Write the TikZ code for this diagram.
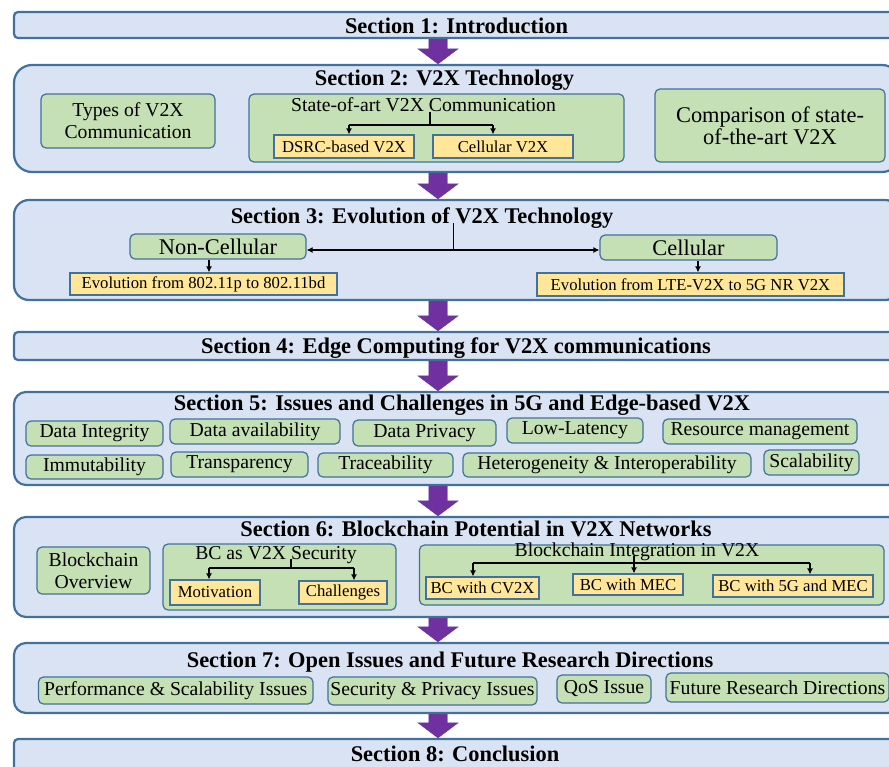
\documentclass[tikz,border=0pt]{standalone}
\usepackage{fontspec}
\setmainfont{Liberation Serif}
\usetikzlibrary{calc,arrows.meta}
\definecolor{secfill}{HTML}{DAE3F3}
\definecolor{secline}{HTML}{41719C}
\definecolor{gfill}{HTML}{C5E0B4}
\definecolor{yfill}{HTML}{FFE699}
\definecolor{purp}{HTML}{7030A0}
\newcommand\fbig{\fontsize{22.4}{27}\selectfont}
\newcommand\fmid{\fontsize{19.7}{22}\selectfont}
\newcommand\fsml{\fontsize{16.7}{19}\selectfont}
\newcommand\bx[7]{\node[#2, minimum width={#5-#3}, minimum height={#6-#4}] (#1) at ({(#3+#5)/2},{(#4+#6)/2}) {#7};}
\newcommand\bigarrow[2]{\fill[purp, draw=purp!70!secline, line width=0.4pt] ($(#1)+(-9.25,0)$) -- ($(#2)+(-9.25,-15)$) -- ($(#2)+(-20,-15)$) -- (#2) -- ($(#2)+(20,-15)$) -- ($(#2)+(9.25,-15)$) -- ($(#1)+(9.25,0)$) -- cycle;}
\tikzset{
  sec/.style={draw=secline, fill=secfill, line width=2.2pt, inner sep=0pt, rounded corners=#1},
  stitle/.style={font=\fontsize{22.4}{26}\selectfont\bfseries, inner sep=0pt, anchor=base},
  gbox/.style={draw=secline, fill=gfill, line width=1.2pt, rounded corners=5pt, inner sep=0pt, align=center, font=\fmid},
  ybox/.style={draw=secline, fill=yfill, line width=1.2pt, inner sep=0pt, align=center, font=\fsml},
  ttl/.style={font=\fmid, inner sep=0pt, anchor=base},
  conn/.style={line width=1.8pt, black},
  arr/.style={conn, -{Latex[length=6pt,width=6pt]}},
  conn3/.style={line width=1.3pt, black},
  arr3/.style={conn3, -{Latex[length=6pt,width=6pt]}},
}
\begin{document}
\begin{tikzpicture}[x=1pt,y=-1pt]
\clip (0,0) rectangle (889,766);
\fill[white] (0,0) rectangle (889,766);
\coordinate (ax) at (438,0);
% ---------- Section 1
\bx{s1}{sec=4pt}{14}{12}{900}{38}{}
\node[stitle] (s1t) at (456.5,33) {Section 1: Introduction};
% ---------- Section 2
\bx{s2}{sec=18pt}{14}{65}{900}{172}{}
\node[stitle] (s2t) at (444.5,85) {Section 2: V2X Technology};
\bx{types}{gbox}{41}{94}{215}{148}{Types of V2X\\Communication}
\bx{state}{gbox}{249}{94}{624}{162}{}
\node[ttl] (stt) at (423.5,111) {State-of-art V2X Communication};
\bx{dsrc}{ybox}{274}{135}{414}{158}{DSRC-based V2X}
\bx{cellv}{ybox}{433}{135}{573}{158}{Cellular V2X}
\bx{comp}{gbox}{655}{89}{885}{162}{\fbig Comparison of state-\\\fbig of-the-art V2X}
\coordinate (stj) at (430,125);
\coordinate (stl) at (349,125);
\coordinate (str) at (493,125);
\draw[conn] (stt.south -| stj) -- (stj);
\draw[conn] (stl) -- (str);
\draw[arr] (stl) -- (stl |- dsrc.north);
\draw[arr] (str) -- (str |- cellv.north);
% ---------- Section 3
\bx{s3}{sec=15pt}{14}{200}{900}{300}{}
\node[stitle] (s3t) at (422,223) {Section 3: Evolution of V2X Technology};
\bx{noncell}{gbox}{130}{234}{306}{259}{\fbig Non-Cellular}
\bx{cell}{gbox}{600}{235}{777}{260}{\fbig Cellular}
\bx{ev1}{ybox}{70}{273}{337}{295}{Evolution from 802.11p to 802.11bd}
\bx{ev2}{ybox}{537}{273}{844}{296}{Evolution from LTE-V2X to 5G NR V2X}
\coordinate (s3j) at (453.5,250);
\draw[conn3] (s3t.base -| s3j) -- (s3j);
\draw[conn3, {Latex[length=6pt,width=6pt]}-{Latex[length=6pt,width=6pt]}] (noncell.east |- s3j) -- (cell.west |- s3j);
\coordinate (ncx) at (209,0);
\coordinate (cex) at (698,0);
\draw[arr3] (noncell.south -| ncx) -- (ev1.north -| ncx);
\draw[arr3] (cell.south -| cex) -- (ev2.north -| cex);
% ---------- Section 4
\bx{s4}{sec=4pt}{14}{332}{900}{360}{}
\node[stitle] (s4t) at (456,353) {Section 4: Edge Computing for V2X communications};
% ---------- Section 5
\bx{s5}{sec=12pt}{14}{392}{900}{485}{}
\node[stitle] (s5t) at (462,410) {Section 5: Issues and Challenges in 5G and Edge-based V2X};
\bx{di}{gbox}{26}{421}{163}{446}{Data Integrity}
\bx{da}{gbox}{170}{419}{340}{444}{Data availability}
\bx{dp}{gbox}{353}{420}{496}{446}{Data Privacy}
\bx{ll}{gbox}{507}{418}{643}{443}{Low-Latency}
\bx{rm}{gbox}{663}{419}{857}{444}{Resource management}
\bx{im}{gbox}{26}{455}{163}{479}{Immutability}
\bx{tr}{gbox}{171}{452}{308}{477}{Transparency}
\bx{tc}{gbox}{318}{453}{453}{477}{Traceability}
\bx{hi}{gbox}{463}{453}{751}{477}{Heterogeneity \& Interoperability}
\bx{sc}{gbox}{764}{450}{859}{475}{Scalability}
% ---------- Section 6
\bx{s6}{sec=12pt}{14}{517}{900}{617}{}
\node[stitle] (s6t) at (476,536) {Section 6: Blockchain Potential in V2X Networks};
\bx{bov}{gbox}{37}{547}{150}{594}{Blockchain\\Overview}
\bx{bcs}{gbox}{163}{544}{396}{610}{}
\node[ttl] (bcst) at (276,559) {BC as V2X Security};
\bx{motiv}{ybox}{170}{580}{260}{605}{Motivation}
\bx{chall}{ybox}{299}{581}{387}{604}{Challenges}
\coordinate (bcj) at (291,568);
\coordinate (bcl) at (209,568);
\coordinate (bcr) at (354,568);
\draw[conn] (bcst.base -| bcj) -- (bcj);
\draw[conn] (bcl) -- (bcr);
\draw[arr] (bcl) -- (bcl |- motiv.north);
\draw[arr] (bcr) -- (bcr |- chall.north);
\bx{bci}{gbox}{419.5}{545}{884}{605}{}
\node[ttl] (bcit) at (637,556) {Blockchain Integration in V2X};
\bx{cv2x}{ybox}{426}{577}{539}{599}{BC with CV2X}
\bx{mec}{ybox}{573}{574}{683}{595}{BC with MEC}
\bx{g5m}{ybox}{713}{575}{873}{597}{BC with 5G and MEC}
\coordinate (bij) at (634,563);
\coordinate (bil) at (473,563);
\coordinate (bir) at (810,563);
\draw[conn] (bcit.base -| bij) -- (bij);
\draw[conn] (bil) -- (bir);
\draw[arr] (bil) -- (bil |- cv2x.north);
\draw[arr] (bij) -- (bij |- mec.north);
\draw[arr] (bir) -- (bir |- g5m.north);
% ---------- Section 7
\bx{s7}{sec=12pt}{14}{643}{900}{713}{}
\node[stitle] (s7t) at (450,667) {Section 7: Open Issues and Future Research Directions};
\bx{perf}{gbox}{38.5}{677}{313}{704}{Performance \& Scalability Issues}
\bx{secp}{gbox}{328}{677}{537}{705}{Security \& Privacy Issues}
\bx{qos}{gbox}{557}{675}{651}{703}{QoS Issue}
\bx{frd}{gbox}{666}{673}{889}{702}{Future Research Directions}
% ---------- Section 8
\bx{s8}{sec=4pt}{14}{739}{900}{800}{}
\node[stitle] (s8t) at (455,761) {Section 8: Conclusion};
% ---------- purple arrows
\bigarrow{ax |- s1.south}{ax |- s2.north}
\bigarrow{ax |- s2.south}{ax |- s3.north}
\bigarrow{ax |- s3.south}{ax |- s4.north}
\bigarrow{ax |- s4.south}{ax |- s5.north}
\bigarrow{ax |- s5.south}{ax |- s6.north}
\bigarrow{ax |- s6.south}{ax |- s7.north}
\bigarrow{ax |- s7.south}{ax |- s8.north}
\end{tikzpicture}
\end{document}
